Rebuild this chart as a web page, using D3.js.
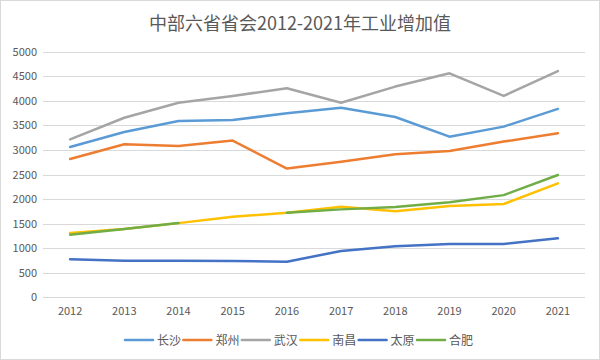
<!DOCTYPE html>
<html><head><meta charset="utf-8">
<script src="https://cdn.jsdelivr.net/npm/d3@7"></script>
<style>body{margin:0;background:#fff}svg{display:block}</style>
</head><body>
<script>
const years = ["2012","2013","2014","2015","2016","2017","2018","2019","2020","2021"];
const seriesNames = ["长沙","郑州","武汉","南昌","太原","合肥"];
const changsha  = [3060,3365,3590,3610,3745,3860,3670,3270,3475,3835];
const zhengzhou = [2815,3115,3080,3190,2620,2760,2910,2980,3170,3340];
const wuhan     = [3215,3655,3960,4100,4255,3960,4290,4560,4100,4605];
const nanchang  = [1310,1390,1510,1640,1720,1845,1750,1860,1900,2320];
const taiyuan   = [773,745,745,740,725,943,1040,1085,1085,1200];
const hefei     = [1275,1390,1515,null,1720,1790,1840,1935,2080,2490];
const yTicks = [0,500,1000,1500,2000,2500,3000,3500,4000,4500,5000];
const colors = ["#5B9BD5","#ED7D31","#A5A5A5","#FFC000","#4472C4","#70AD47"];
const title = "中部六省省会2012-2021年工业增加值";

const seriesValues = [changsha, zhengzhou, wuhan, nanchang, taiyuan, hefei];
const W = 600, H = 360;
const font = "'Noto Sans CJK SC','Noto Sans',sans-serif";
const svg = d3.select("body").append("svg").attr("width", W).attr("height", H);
svg.append("rect").attr("x",0.5).attr("y",0.5).attr("width",W-1).attr("height",H-1)
  .attr("fill","#fff").attr("stroke","#d9d9d9");

svg.append("text").attr("x",300).attr("y",30).attr("text-anchor","middle")
  .attr("font-family",font).attr("font-size",18).attr("fill","#595959").text(title);

const x = d3.scaleBand().domain(years).range([43,585]);
const y = d3.scaleLinear().domain([0,5000]).range([297.3,51.7]);

const grid = svg.append("g");
grid.selectAll("line").data(yTicks).join("line")
  .attr("x1",43).attr("x2",585)
  .attr("y1",d=>Math.round(y(d))+0.5).attr("y2",d=>Math.round(y(d))+0.5)
  .attr("stroke","#d9d9d9").attr("stroke-width",1);

const yAxis = svg.append("g").attr("transform","translate(37,0)")
  .call(d3.axisLeft(y).tickValues(yTicks).tickSize(0).tickPadding(0).tickFormat(d3.format("d")));
yAxis.select(".domain").remove();
yAxis.selectAll("text").attr("font-family",font).attr("font-size",11).attr("fill","#595959");

const xAxis = svg.append("g").attr("transform","translate(0,303)")
  .call(d3.axisBottom(x).tickSize(0).tickPadding(4));
xAxis.select(".domain").remove();
xAxis.selectAll("text").attr("font-family",font).attr("font-size",11).attr("fill","#595959");

const line = d3.line().defined(d=>d!=null)
  .x((d,i)=>x(years[i])+x.bandwidth()/2).y(d=>y(d));
seriesValues.forEach((vals,k)=>{
  svg.append("path").datum(vals).attr("d",line).attr("fill","none")
    .attr("stroke",colors[k]).attr("stroke-width",2.5)
    .attr("stroke-linejoin","round").attr("stroke-linecap","round");
});

const legend = svg.append("g");
const lx0 = 125, pitch = 58.4, ly = 340;
seriesNames.forEach((n,k)=>{
  const g = legend.append("g").attr("transform",`translate(${lx0+k*pitch},${ly})`);
  g.append("line").attr("x1",0).attr("x2",28).attr("y1",0).attr("y2",0)
    .attr("stroke",colors[k]).attr("stroke-width",2.5).attr("stroke-linecap","round");
  g.append("text").attr("x",32).attr("y",4.5).attr("font-family",font)
    .attr("font-size",12).attr("fill","#595959").text(n);
});
</script>
</body></html>
